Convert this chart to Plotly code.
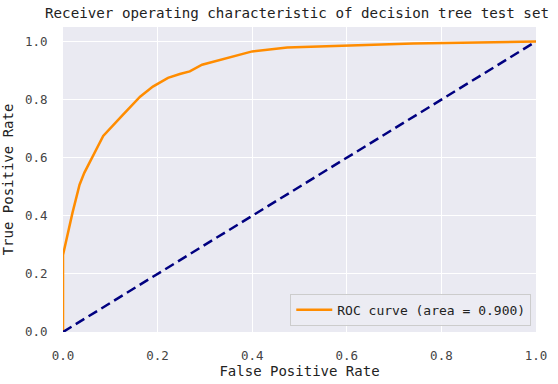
import plotly.graph_objects as go

# ROC curve points (false positive rate, true positive rate)
fpr = [0.0, 0.0, 0.02, 0.035, 0.045, 0.085, 0.125, 0.163, 0.19, 0.222, 0.247, 0.268,
       0.294, 0.325, 0.374, 0.40, 0.474, 0.60, 0.74, 1.0]
tpr = [0.0, 0.265, 0.41, 0.507, 0.548, 0.675, 0.745, 0.81, 0.845, 0.875, 0.888, 0.897,
       0.92, 0.934, 0.955, 0.966, 0.979, 0.986, 0.993, 1.0]
diag_x = [0.0, 1.0]
diag_y = [0.0, 1.0]
roc_auc = 0.900
tick_vals = [0.0, 0.2, 0.4, 0.6, 0.8, 1.0]
tick_text = ["0.0", "0.2", "0.4", "0.6", "0.8", "1.0"]

FONT = "DejaVu Sans Mono"

fig = go.Figure()
fig.add_trace(go.Scatter(x=fpr, y=tpr, mode="lines",
                         line=dict(color="darkorange", width=2.5),
                         name="ROC curve (area = %0.3f)" % roc_auc))
fig.add_trace(go.Scatter(x=diag_x, y=diag_y, mode="lines",
                         line=dict(color="navy", width=2.5, dash="10px,5px"),
                         showlegend=False))

fig.update_layout(
    width=558, height=384,
    margin=dict(l=63, r=22, t=27, b=52),
    paper_bgcolor="white",
    plot_bgcolor="#EAEAF2",
    font=dict(family=FONT, size=12, color="#333333"),
    title=dict(text="Receiver operating characteristic of decision tree test set",
               x=297 / 558, xref="container", xanchor="center",
               y=1 - 13 / 384, yref="container", yanchor="middle",
               font=dict(family=FONT, size=14.2, color="#222222")),
    xaxis=dict(range=[0, 1.0], tickvals=tick_vals, ticktext=tick_text,
               automargin=False,
               showgrid=True, gridcolor="white", gridwidth=1.2,
               zeroline=False, showline=False,
               ticks="outside", ticklen=12, tickcolor="rgba(0,0,0,0)",
               title=dict(text="False Positive Rate", standoff=4,
                          font=dict(family=FONT, size=14, color="#222222")),
               tickfont=dict(family=FONT, size=12.5, color="#444444")),
    yaxis=dict(range=[0, 1.05], tickvals=tick_vals, ticktext=tick_text,
               automargin=False,
               showgrid=True, gridcolor="white", gridwidth=1.2,
               zeroline=False, showline=False,
               ticks="outside", ticklen=12, tickcolor="rgba(0,0,0,0)",
               title=dict(text="True Positive Rate", standoff=8,
                          font=dict(family=FONT, size=14, color="#222222")),
               tickfont=dict(family=FONT, size=12.5, color="#444444")),
    legend=dict(x=0.99, y=0.02, xanchor="right", yanchor="bottom",
                itemwidth=36,
                bgcolor="rgba(236,236,243,0.9)", bordercolor="#cccccc", borderwidth=1,
                font=dict(family=FONT, size=13, color="#222222")),
    showlegend=True,
)

fig.write_html("out.html", config={"displayModeBar": False},
               post_script="document.body.style.margin='0';")
